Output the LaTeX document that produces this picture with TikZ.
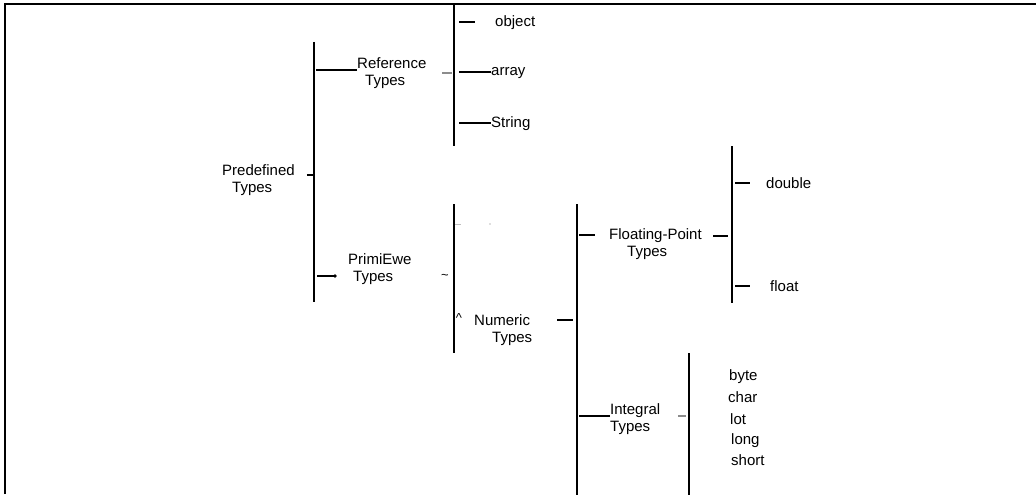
\documentclass[tikz,border=0pt]{standalone}
\usepackage{fontspec}
\setmainfont{Liberation Sans}
\begin{document}
\begin{tikzpicture}[x=1pt,y=-1pt,
  lbl/.style={anchor=base west,inner sep=0pt,font=\fontsize{15}{17}\selectfont},
  sym/.style={inner sep=0pt,font=\fontsize{13}{15}\selectfont},
  brk/.style={line width=1.4pt,line cap=butt},
  thk/.style={line width=2pt},
  dsh/.style={line width=1.1pt},
  gdsh/.style={line width=1.1pt,black!45},
  faint/.style={line width=0.8pt,black!25}]
\useasboundingbox (0,0) rectangle (1036,495);
% frame
\draw[brk] (5,494) -- (5,4) -- (1036,4);
% labels
\node[lbl] (pd1) at (222,175) {Predefined};
\node[lbl] (pd2) at (232,192) {Types};
\node[lbl] (rf1) at (357,68) {Reference};
\node[lbl] (rf2) at (365,85) {Types};
\node[lbl] (pr1) at (348,264) {PrimiEwe};
\node[lbl] (pr2) at (353,281) {Types};
\node[lbl] (obj) at (495,27) {object};
\node[lbl] (arr) at (491,76) {array};
\node[lbl] (str) at (491,127) {String};
\node[lbl] (nu1) at (474,325) {Numeric};
\node[lbl] (nu2) at (492,342) {Types};
\node[lbl] (fp1) at (609,239) {Floating-Point};
\node[lbl] (fp2) at (627,256) {Types};
\node[lbl] (dbl) at (766,188) {double};
\node[lbl] (flt) at (770,291) {float};
\node[lbl] (in1) at (610,414) {Integral};
\node[lbl] (in2) at (610,431) {Types};
\node[lbl] (byt) at (729,380) {byte};
\node[lbl] (chr) at (728,402) {char};
\node[lbl] (lot) at (730,424) {lot};
\node[lbl] (lng) at (731,444) {long};
\node[lbl] (sht) at (731,465) {short};
\node[sym] (tld) at (445,277) {\textasciitilde};
\node[sym] (crt) at (459,318) {\textasciicircum};
% bracket ends
\coordinate (b1t) at (314,42);  \coordinate (b1b) at (314,302);
\coordinate (b2t) at (454,4);   \coordinate (b2b) at (454,146);
\coordinate (b3t) at (454,204); \coordinate (b3b) at (454,353);
\coordinate (b4t) at (577,204); \coordinate (b4b) at (577,495);
\coordinate (b5t) at (732,146); \coordinate (b5b) at (732,303);
\coordinate (b6t) at (689,353); \coordinate (b6b) at (689,495);
\foreach \a in {1,...,6} {\draw[brk] (b\a t) -- (b\a b);}
% connectors
\draw[dsh] ([xshift=12pt]pd1.base east) -- ++(7,0);
\draw[thk] ([yshift=-2pt]rf1.base west) -- ++(-41,0);
\draw[gdsh] ([xshift=-12pt]b2t |- 0,73) -- ++(10,0);
\draw[dsh] ([xshift=5pt]b2t |- 0,22) -- ++(16,0);
\draw[thk] ([yshift=4pt]arr.base west) -- ++(-32,0);
\draw[thk] ([yshift=4pt]str.base west) -- ++(-32,0);
\draw[dsh] ([xshift=3pt]b1t |- 0,276) coordinate (pd0) -- ++(18,0) coordinate (pdot);
\fill (pdot) circle (1.8);
\draw[faint] (455,224) -- (461,224);
\fill[black!25] (490,224) circle (0.8);
\draw[dsh] ([xshift=-20pt]b4t |- 0,320) -- ++(16,0);
\draw[dsh] ([xshift=2pt]b4t |- 0,235) -- ++(16,0);
\draw[dsh] ([xshift=-19pt]b5t |- 0,236) -- ++(15,0);
\draw[dsh] ([xshift=3pt]b5t |- dbl.base) ++(0,-5) -- ++(15,0);
\draw[dsh] ([xshift=3pt]b5t |- flt.base) ++(0,-5) -- ++(15,0);
\draw[thk] ([yshift=-2pt]in1.base west) -- ++(-31,0);
\draw[gdsh] ([xshift=-11pt]b6t |- 0,416) -- ++(8,0);
\end{tikzpicture}
\end{document}
